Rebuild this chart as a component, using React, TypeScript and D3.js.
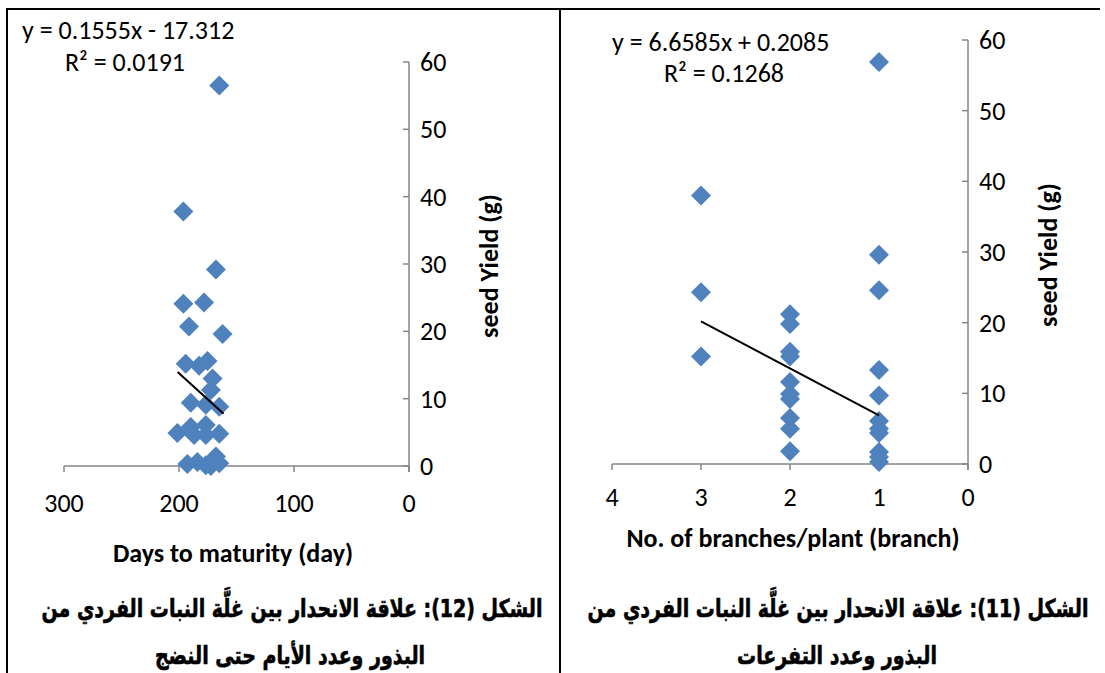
import React from "react";
import * as d3 from "d3";

// Figure 12: days to maturity vs seed yield
const days = [196.2, 167.9, 196.2, 178.2, 191.3, 162.1, 194.2, 182.5, 175.2, 170.8, 172.3, 189.8, 176.7, 165, 201.4, 189.8, 176.7, 186.9, 176.7, 165, 192.7, 184, 176.7, 167.9, 165, 172.3, 165];
const yieldDays = [37.8, 29.2, 24.1, 24.3, 20.7, 19.6, 15.2, 14.9, 15.6, 13.0, 11.3, 9.4, 9.1, 8.8, 4.9, 5.8, 6.1, 4.6, 4.6, 4.8, 0.3, 0.6, 0.1, 1.4, 0.4, 0.0, 56.5];
const trendDays = { slope: 0.1555, intercept: -17.312, from: 201.2, to: 161.2 };
const xTicksDays = [300, 200, 100, 0];

// Figure 11: number of branches vs seed yield
const branches = [3, 3, 3, 2, 2, 2, 2, 2, 2, 2, 2, 2, 2, 1, 1, 1, 1, 1, 1, 1, 1, 1, 1, 1];
const yieldBranches = [38.0, 24.3, 15.2, 21.2, 19.8, 15.9, 15.2, 11.6, 9.9, 9.2, 6.5, 5.0, 1.8, 29.6, 24.6, 13.3, 9.7, 6.1, 5.0, 4.4, 1.7, 1.0, 0.3, 56.9];
const trendBranches = { slope: 6.6585, intercept: 0.2085, from: 3, to: 1 };
const xTicksBranches = [4, 3, 2, 1, 0];

const yTicks = [0, 10, 20, 30, 40, 50, 60];

const captionLeft1 = "الشكل (12): علاقة الانحدار بين غلَّة النبات الفردي من";
const captionLeft2 = "البذور وعدد الأيام حتى النضج";
const captionRight1 = "الشكل (11): علاقة الانحدار بين غلَّة النبات الفردي من";
const captionRight2 = "البذور وعدد التفرعات";

const AXIS = "#868686";
const MARK = "#4F81BD";
const LATIN = "Calibri, Carlito, 'Open Sans', sans-serif";
const ARABIC = "'DejaVu Sans', sans-serif";
const FS = 26;

type PanelProps = {
  xs: number[];
  ys: number[];
  trend: { slope: number; intercept: number; from: number; to: number };
  xTicks: number[];
  xDomain: [number, number];
  xRange: [number, number];
  yRange: [number, number];
  xTickDy: number;
  xTitle: string;
  xTitleX: number;
  xTitleY: number;
  yTitleX: number;
  yTitleY: number;
  eq: string;
  r2: string;
  eqPos: [number, number];
  r2Pos: [number, number];
};

function Panel(p: PanelProps) {
  const x = d3.scaleLinear().domain(p.xDomain).range(p.xRange);
  const y = d3.scaleLinear().domain([0, 60]).range(p.yRange);
  const axisX = p.xRange[1];
  const axisY = y(0);
  const diamond = d3.symbol().type(d3.symbolSquare).size(200)();
  const line = d3.line<number>().x((d) => x(d)).y((d) => y(p.trend.slope * d + p.trend.intercept));
  return (
    <g>
      {/* x axis */}
      <line x1={p.xRange[0]} x2={axisX} y1={axisY} y2={axisY} stroke={AXIS} strokeWidth={1.5} />
      {p.xTicks.map((t) => (
        <g key={"xt" + t}>
          <line x1={x(t)} x2={x(t)} y1={axisY} y2={axisY + 6} stroke={AXIS} strokeWidth={1.5} />
          <text x={x(t)} y={axisY + p.xTickDy} textAnchor="middle" fontFamily={LATIN} fontSize={FS} fill="#000">
            {t}
          </text>
        </g>
      ))}
      {/* y axis */}
      <line x1={axisX} x2={axisX} y1={y(60)} y2={axisY + 6} stroke={AXIS} strokeWidth={1.5} />
      {yTicks.map((t) => (
        <g key={"yt" + t}>
          <line x1={axisX - 6} x2={axisX} y1={y(t)} y2={y(t)} stroke={AXIS} strokeWidth={1.5} />
          <text x={axisX + 11} y={y(t) + 9} textAnchor="start" fontFamily={LATIN} fontSize={FS} fill="#000">
            {t}
          </text>
        </g>
      ))}
      {/* points */}
      {p.xs.map((d, i) => (
        <path key={"pt" + i} d={diamond} fill={MARK} transform={`translate(${x(d)},${y(p.ys[i])}) rotate(45)`} />
      ))}
      {/* trend line */}
      <path d={line([p.trend.from, p.trend.to]) || ""} stroke="#000" strokeWidth={2} fill="none" />
      {/* titles */}
      <text x={p.xTitleX} y={p.xTitleY} textAnchor="middle" fontFamily={LATIN} fontWeight="bold" fontSize={FS}>
        {p.xTitle}
      </text>
      <text transform={`translate(${p.yTitleX},${p.yTitleY}) rotate(-90)`} textAnchor="middle" fontFamily={LATIN} fontWeight="bold" fontSize={FS}>
        seed Yield (g)
      </text>
      <text x={p.eqPos[0]} y={p.eqPos[1]} fontFamily={LATIN} fontSize={FS}>
        {p.eq}
      </text>
      <text x={p.r2Pos[0]} y={p.r2Pos[1]} fontFamily={LATIN} fontSize={FS}>
        {p.r2}
      </text>
    </g>
  );
}

function Caption({ x, y, text }: { x: number; y: number; text: string }) {
  return (
    <text
      transform={`translate(${x},${y}) scale(1,1.3)`}
      textAnchor="middle"
      fontFamily={ARABIC}
      fontWeight="bold"
      fontSize={19}
      direction="rtl"
      fill="#000"
      stroke="#000"
      strokeWidth={0.5}
    >
      {text}
    </text>
  );
}

export default function App() {
  return (
    <svg width={1105} height={673} style={{ position: "absolute", left: 0, top: 0, background: "#fff" }}>
      <rect width={1105} height={673} fill="#fff" />
      {/* table frame */}
      <line x1={6} x2={1100} y1={9} y2={9} stroke="#000" strokeWidth={2} />
      <line x1={7} x2={7} y1={8} y2={673} stroke="#000" strokeWidth={2} />
      <line x1={560} x2={560} y1={8} y2={673} stroke="#000" strokeWidth={2} />

      <Panel
        xs={days}
        ys={yieldDays}
        trend={trendDays}
        xTicks={xTicksDays}
        xDomain={[300, 0]}
        xRange={[64, 409]}
        yRange={[466, 62]}
        xTickDy={46}
        xTitle="Days to maturity (day)"
        xTitleX={233}
        xTitleY={562}
        yTitleX={498}
        yTitleY={266}
        eq="y = 0.1555x - 17.312"
        r2="R² = 0.0191"
        eqPos={[22, 39]}
        r2Pos={[65, 71]}
      />
      <Panel
        xs={branches}
        ys={yieldBranches}
        trend={trendBranches}
        xTicks={xTicksBranches}
        xDomain={[4, 0]}
        xRange={[612, 968]}
        yRange={[464, 40]}
        xTickDy={42}
        xTitle="No. of branches/plant (branch)"
        xTitleX={793}
        xTitleY={547}
        yTitleX={1057}
        yTitleY={255}
        eq="y = 6.6585x + 0.2085"
        r2="R² = 0.1268"
        eqPos={[612, 51]}
        r2Pos={[664, 82]}
      />

      {/* captions */}
      <Caption x={292} y={617} text={captionLeft1} />
      <Caption x={290} y={664} text={captionLeft2} />
      <Caption x={838} y={617} text={captionRight1} />
      <Caption x={837} y={664} text={captionRight2} />
    </svg>
  );
}
